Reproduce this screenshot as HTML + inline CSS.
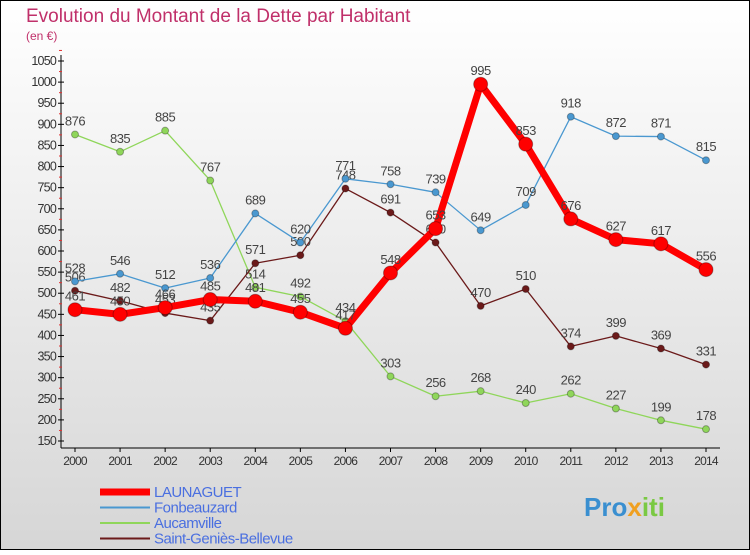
<!DOCTYPE html>
<html><head><meta charset="utf-8"><style>
body{margin:0;width:750px;height:550px;overflow:hidden;font-family:"Liberation Sans",sans-serif}
svg text{font-family:"Liberation Sans",sans-serif}
</style></head><body>
<svg id="c" width="750" height="550" xmlns="http://www.w3.org/2000/svg">
<defs><linearGradient id="bg" x1="0" y1="0" x2="0" y2="1"><stop offset="0" stop-color="#ffffff"/><stop offset="1" stop-color="#d6d6d6"/></linearGradient></defs>
<rect x="0.5" y="0.5" width="749" height="549" fill="url(#bg)" stroke="#000"/>
<text x="26" y="22" font-size="19" fill="#c0306a">Evolution du Montant de la Dette par Habitant</text>
<text x="26" y="40" font-size="12" fill="#c0306a">(en €)</text>
<g id="axes"></g><g id="series"></g><g id="legend"></g>
<text x="584" y="516" font-size="26" font-weight="bold" fill="#3a8fd0">Pro<tspan fill="#f0a020">x</tspan><tspan fill="#7ac943">iti</tspan></text>
</svg>
<script>
const years=[2000,2001,2002,2003,2004,2005,2006,2007,2008,2009,2010,2011,2012,2013,2014];
const yTicks=[150,200,250,300,350,400,450,500,550,600,650,700,750,800,850,900,950,1000,1050];
const launaguet=[461,450,466,485,481,455,417,548,653,995,853,676,627,617,556];
const fonbeauzard=[528,546,512,536,689,620,771,758,739,649,709,918,872,871,815];
const aucamville=[876,835,885,767,514,492,434,303,256,268,240,262,227,199,178];
const stgenies=[506,482,453,435,571,590,748,691,620,470,510,374,399,369,331];
const NS='http://www.w3.org/2000/svg';
const X=i=>75+i*(631/14);
const Y=v=>61+(1050-v)*(380/900);
function mk(t,a,p){const e=document.createElementNS(NS,t);for(const k in a)e.setAttribute(k,a[k]);p.appendChild(e);return e;}
const ax=document.getElementById('axes');
let l=mk('line',{x1:61,y1:55,x2:61,y2:448,stroke:'#000'},ax);


l=mk('line',{x1:61,y1:448,x2:720,y2:448,stroke:'#000'},ax);


yTicks.forEach(v=>{
 mk('line',{x1:58,y1:Y(v),x2:64,y2:Y(v),stroke:'#000'},ax);
 mk('line',{x1:59,y1:Y(v+25),x2:62,y2:Y(v+25),stroke:'#e03030'},ax);
 const t=mk('text',{x:56,y:Y(v)+4,'font-size':12.5,'text-anchor':'end',fill:'#333','letter-spacing':'-0.8'},ax);t.textContent=v;
 
 
});
years.forEach((y,i)=>{
 mk('line',{x1:X(i),y1:448,x2:X(i),y2:452,stroke:'#000'},ax);
 const t=mk('text',{x:X(i),y:465,'font-size':12,'text-anchor':'middle',fill:'#333','letter-spacing':'-0.8'},ax);t.textContent=y;
 
 
});
const sg=document.getElementById('series');
function series(data,color,w,r,name){
 const g=mk('g',{},sg);
 
 
 mk('polyline',{points:data.map((v,i)=>X(i)+','+Y(v)).join(' '),fill:'none',stroke:color,'stroke-width':w,'stroke-linejoin':'round'},g);
 data.forEach((v,i)=>{
  const c=mk('circle',{cx:X(i),cy:Y(v),r:r,fill:color,stroke:'rgba(0,0,0,0.3)'},g);
  
  
  const t=mk('text',{x:X(i),y:Y(v)-9,'font-size':13,'text-anchor':'middle',fill:'#444','letter-spacing':'-0.5'},g);t.textContent=v;
  
  
 });
}
series(aucamville,'#8fd65a',1.3,3.5,'aucamville-series');
series(stgenies,'#6b1a1a',1.3,3.5,'saint-genies-series');
series(fonbeauzard,'#4a98d0',1.3,3.5,'fonbeauzard-series');
series(launaguet,'#ff0000',7,7,'launaguet-series');
const lg=document.getElementById('legend');
const items=[['LAUNAGUET','#ff0000',7],['Fonbeauzard','#4a98d0',2],['Aucamville','#8fd65a',2],['Saint-Geniès-Bellevue','#6b1a1a',2]];
items.forEach((it,i)=>{
 const y=492+i*15.5;
 const g=mk('g',{},lg);
 
 
 mk('line',{x1:100,y1:y,x2:150,y2:y,stroke:it[1],'stroke-width':it[2]},g);
 const t=mk('text',{x:154,y:y+5,'font-size':15,fill:'#4a6fe0','letter-spacing':'-0.5'},g);t.textContent=it[0];
});
</script>
</body></html>
